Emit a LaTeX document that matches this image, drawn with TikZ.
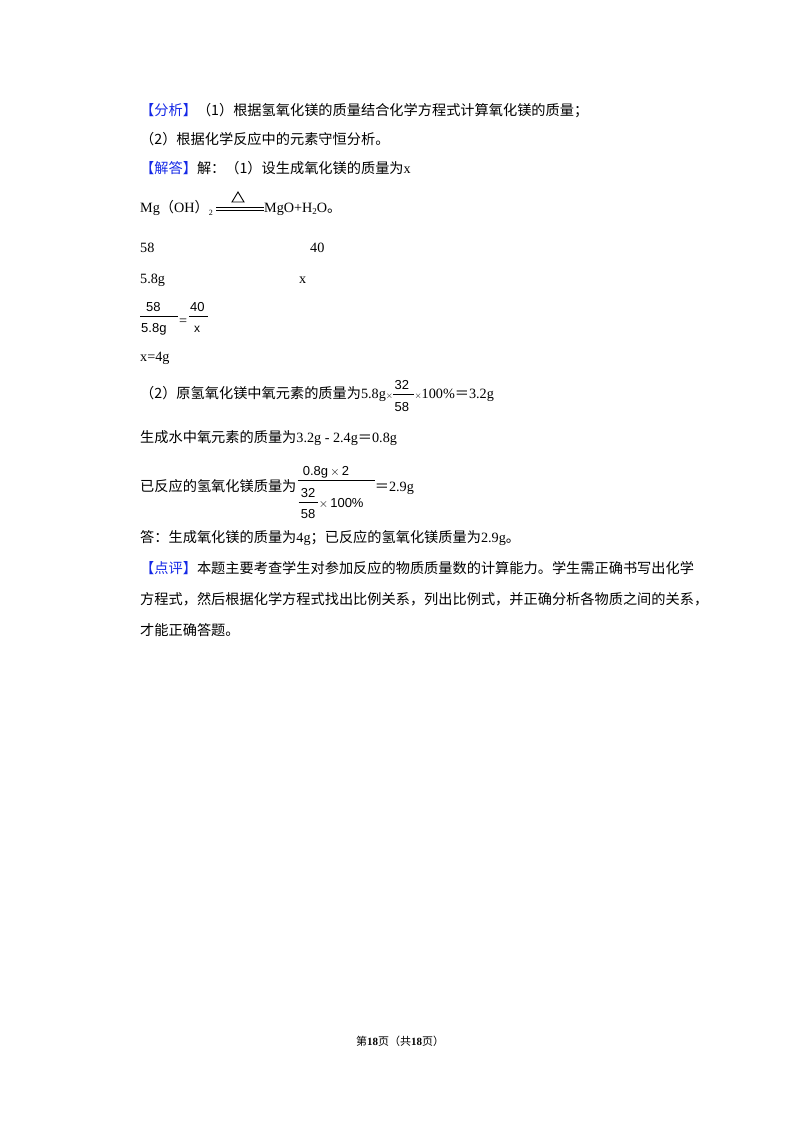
\documentclass[tikz,border=0pt]{standalone}
\usepackage{fontspec}
\setmainfont{Liberation Serif}
\newfontfamily\cjk{Noto Sans CJK SC}
\newfontfamily\sfd{Liberation Sans}
\definecolor{hb}{RGB}{20,40,230}
\begin{document}
\begin{tikzpicture}[x=1pt,y=-1pt,
  t/.style={anchor=base west,inner sep=0pt,font=\fontsize{14.2}{16}\selectfont},
  s/.style={anchor=base west,inner sep=0pt,font=\sfd\fontsize{13}{16}\selectfont}]
\useasboundingbox (0,0) rectangle (800,1132);
\node[t] (l1) at (140,115) {\cjk\textcolor{hb}{【分析】}（1）根据氢氧化镁的质量结合化学方程式计算氧化镁的质量；};
\node[t] (l2) at (140,144) {\cjk（2）根据化学反应中的元素守恒分析。};
\node[t] (l3) at (140,173) {{\cjk\textcolor{hb}{【解答】}解：（1）设生成氧化镁的质量为}x};
\node[t] (mg) at (140,212) {Mg{\cjk（}OH{\cjk）}\raisebox{-3pt}{\fontsize{8}{8}\selectfont 2}};
\draw[line width=0.6] (216,207) -- (264,207) (216,210) -- (264,210);
\draw[line width=0.9] (232,202) -- (238,192) -- (244,202) -- cycle;
\node[t] (mgo) at (264,212) {MgO+H\raisebox{-2pt}{\fontsize{9}{9}\selectfont 2}O{\cjk 。}};
\node[t] (a1) at (140,252) {58};
\node[t] (a2) at (310,252) {40};
\node[t] (b1) at (140,283) {5.8g};
\node[t] (b2) at (299,283) {x};
\node[s] (f1) at (146,311) {58};
\draw (140,316) -- (178,316);
\node[s] (f2) at (141,332) {5.8g};
\node[t] (eq) at (179,325) {=};
\node[s] (f3) at (190,311) {40};
\draw (189,316) -- (208,316);
\node[s,font=\sfd\fontsize{12}{16}\selectfont] (f4) at (194,332) {x};
\node[t] (x4) at (140,361) {x=4g};
\node[t] (p2) at (140,398) {{\cjk（2）原氢氧化镁中氧元素的质量为}5.8g{\fontsize{9}{9}\selectfont$\times$}};
\node[s,anchor=base west] (n32) at ([xshift=1pt,yshift=9pt]p2.base east) {32};
\draw ([yshift=4pt]p2.base east) -- ++(21,0) coordinate (fe);
\node[s] (n58) at ([xshift=1pt,yshift=-13pt]p2.base east) {58};
\node[t] (pct) at (p2.base east -| fe) {{\fontsize{9}{9}\selectfont$\times$}100\%{\cjk＝}3.2g};
\node[t] (w) at (140,442) {{\cjk 生成水中氧元素的质量为}3.2g - 2.4g{\cjk＝}0.8g};
\node[t] (r) at (140,491) {\cjk 已反应的氢氧化镁质量为};
\coordinate (r0) at ([xshift=1pt]r.base east);
\node[s] (rn) at ([xshift=5pt,yshift=16pt]r0) {0.8g\,$\times$\,2};
\draw ([yshift=11pt]r0) -- ++(77,0) coordinate (re0);
\node[s] (r32) at ([xshift=3pt,yshift=-6pt]r0) {32};
\draw ([xshift=1pt,yshift=-11pt]r0) -- ++(19,0);
\node[s] (r58) at ([xshift=3pt,yshift=-27pt]r0) {58};
\node[s] (r100) at ([xshift=21pt,yshift=-16pt]r0) {$\times$\,100\%};
\node[t] (re) at (r.base east -| re0) {{\cjk＝}2.9g};
\node[t] (ans) at (140,542) {{\cjk 答：生成氧化镁的质量为}4g{\cjk；已反应的氢氧化镁质量为}2.9g{\cjk 。}};
\node[t] (c1) at (140,573) {\cjk\textcolor{hb}{【点评】}本题主要考查学生对参加反应的物质质量数的计算能力。学生需正确书写出化学};
\node[t] (c2) at (140,604) {\cjk 方程式，然后根据化学方程式找出比例关系，列出比例式，并正确分析各物质之间的关系，};
\node[t] (c3) at (140,635) {\cjk 才能正确答题。};
\node[anchor=base,inner sep=0pt,font=\fontsize{11}{13}\selectfont] (ft) at (400,1045) {{\cjk 第}\textbf{18}{\cjk 页（共}\textbf{18}{\cjk 页）}};
\end{tikzpicture}
\end{document}
